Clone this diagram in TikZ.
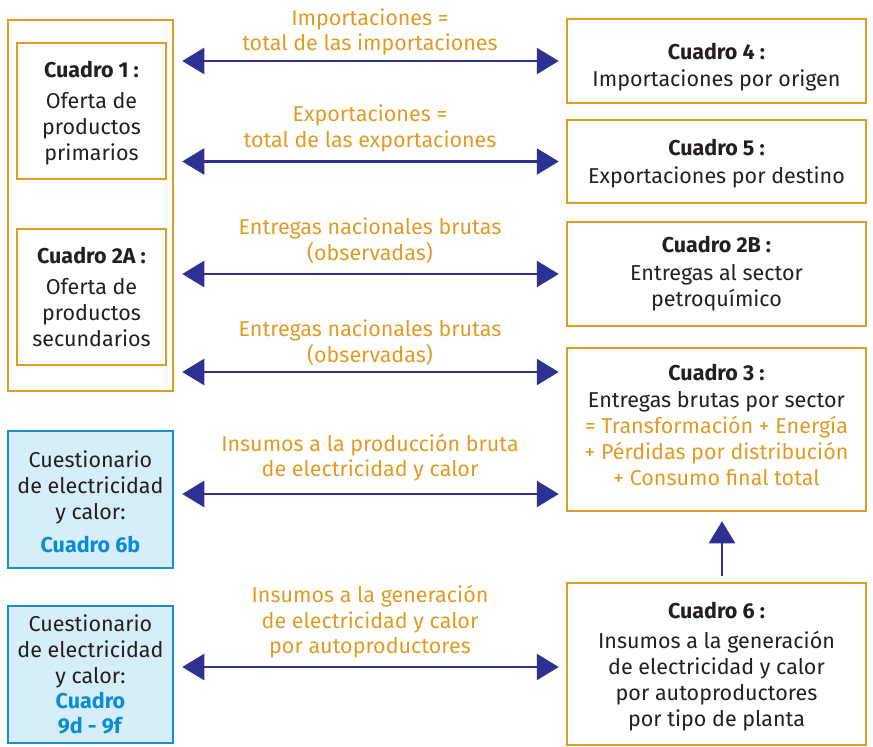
\documentclass[tikz,border=0pt]{standalone}
\usepackage{fontspec}
\setmainfont{Fira Sans}
\usetikzlibrary{arrows.meta, positioning}
\definecolor{boxorange}{HTML}{E09B22}
\definecolor{arrowblue}{HTML}{2E3192}
\definecolor{qfill}{HTML}{D5EEFA}
\definecolor{qblue}{HTML}{1B8ED1}
\definecolor{qtext}{HTML}{0A8CD3}
\definecolor{textdark}{HTML}{231F20}

\begin{document}
\begin{tikzpicture}[x=1pt, y=-1pt,
        box/.style={draw=boxorange, line width=2.5pt, align=center, inner sep=0pt, text=textdark, font=\fontsize{21.5}{26}\selectfont},
        qbox/.style={box, draw=qblue, fill=qfill},
        flow/.style={draw=arrowblue, line width=2.5pt, shorten <=8pt, shorten >=7pt},
        lbl/.style={text=boxorange, align=center, font=\fontsize{21.5}{25.5}\selectfont}]
        \useasboundingbox (0,0) rectangle (873,747);

        \node[box, minimum width=165pt, minimum height=371pt] (outer) at (90.5, 205.5) {};
        \node[box, minimum width=149pt, minimum height=136pt] (c1) at (91.5, 111) {\rule{0pt}{20pt}\textbf{Cuadro 1 :}\\[5pt]Oferta de\\productos\\primarios};
        \node[box, minimum width=149pt, minimum height=136pt] (c2a) at (91.5, 297) {\textbf{Cuadro 2A :}\\[5pt]Oferta de\\productos\\secundarios};
        \node[qbox, minimum width=165pt, minimum height=137pt] (q6b) at (90.5, 499.5) {\rule{0pt}{22pt}Cuestionario\\de electricidad\\y calor:\\[7pt]\textcolor{qtext}{\textbf{Cuadro 6b}}};
        \node[qbox, minimum width=165pt, minimum height=137pt] (q9) at (90.5, 674.5) {Cuestionario\\de electricidad\\y calor:\\[-1pt]\textcolor{qtext}{\textbf{Cuadro}}\\[-1pt]\textcolor{qtext}{\textbf{9d - 9f}}};

        \node[box, minimum width=299pt, minimum height=84pt] (c4) at (716.5, 61) {\rule{0pt}{28pt}\textbf{Cuadro 4 :}\\[1pt]Importaciones por origen};
        \node[box, minimum width=299pt, minimum height=83pt] (c5) at (716.5, 161.5) {\rule{0pt}{20pt}\textbf{Cuadro 5 :}\\[2pt]Exportaciones por destino};
        \node[box, minimum width=299pt, minimum height=104pt] (c2b) at (716.5, 274) {\textbf{Cuadro 2B :}\\[2pt]Entregas al sector\\petroquímico};
        \node[box, minimum width=299pt, minimum height=163pt] (c3) at (716.5, 429.5) {\textbf{Cuadro 3 :}\\[1pt]Entregas brutas por sector\\\textcolor{boxorange}{= Transformación + Energía}\\\textcolor{boxorange}{+ Pérdidas por distribución}\\\textcolor{boxorange}{+ Consumo final total}\rule[-10pt]{0pt}{0pt}};
        \node[box, minimum width=299pt, minimum height=162pt] (c6) at (716.5, 664) {\rule{0pt}{22pt}\textbf{Cuadro 6 :}\\[4pt]Insumos a la generación\\de electricidad y calor\\por autoproductores\\por tipo de planta};

        \coordinate (r4) at (0, 372);
        \coordinate (r5) at (0, 494);
        \coordinate (r6) at (0, 667);

        \draw[flow, {Triangle[length=22pt, width=26pt]}-{Triangle[length=22pt, width=26pt]}]
            (outer.east |- c4.west) -- node[lbl, above=1pt] {Importaciones =\\total de las importaciones} (c4.west);
        \draw[flow, {Triangle[length=22pt, width=26pt]}-{Triangle[length=22pt, width=26pt]}]
            (outer.east |- c5.west) -- node[lbl, above=5pt] {Exportaciones =\\total de las exportaciones} (c5.west);
        \draw[flow, {Triangle[length=22pt, width=26pt]}-{Triangle[length=22pt, width=26pt]}]
            (outer.east |- c2b.west) -- node[lbl, above=6pt] {Entregas nacionales brutas\\(observadas)} (c2b.west);
        \draw[flow, {Triangle[length=22pt, width=26pt]}-{Triangle[length=22pt, width=26pt]}]
            (outer.east |- r4) -- node[lbl, above=2pt] {Entregas nacionales brutas\\(observadas)} (c3.west |- r4);
        \draw[flow, {Triangle[length=22pt, width=26pt]}-{Triangle[length=22pt, width=26pt]}]
            (q6b.east |- r5) -- node[lbl, above=8pt] {Insumos a la producción bruta\\de electricidad y calor} (c3.west |- r5);
        \draw[flow, {Triangle[length=22pt, width=26pt]}-{Triangle[length=22pt, width=26pt]}]
            (q9.east |- r6) -- node[lbl, above=4pt] {Insumos a la generación\\de electricidad y calor\\por autoproductores} (c6.west |- r6);
        \draw[flow, shorten <=6pt, shorten >=9pt, -{Triangle[length=22pt, width=26pt]}]
            ([xshift=5.5pt]c6.north) -- ([xshift=5.5pt]c3.south);
    \end{tikzpicture}
\end{document}
